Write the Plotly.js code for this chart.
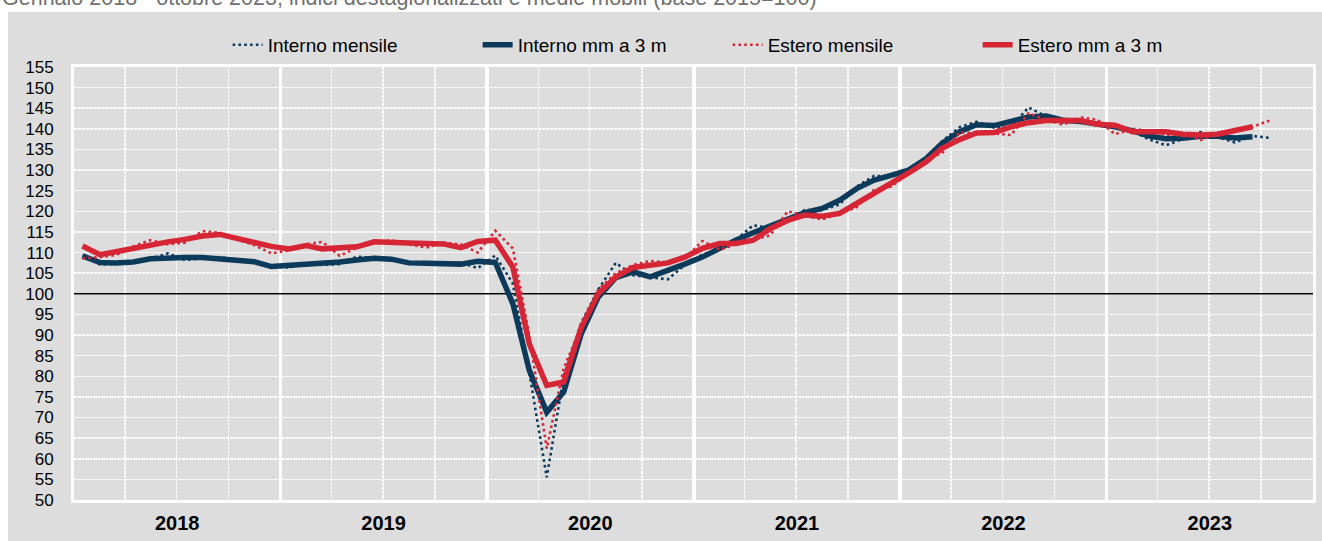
<!DOCTYPE html>
<html>
<head>
<meta charset="utf-8">
<script src="https://cdn.plot.ly/plotly-3.0.1.min.js"></script>
<style>
  html, body { margin: 0; padding: 0; background: #ffffff; }
  #chart { width: 1322px; height: 541px; }
</style>
</head>
<body>
<div id="chart"></div>
<script>
// Months: January 2018 - October 2023
var startYear = 2018;
var monthCount = 70;
var months = [];
for (var i = 0; i < monthCount; i++) {
  var y = startYear + Math.floor(i / 12);
  var m = (i % 12) + 1;
  months.push(y + '-' + (m < 10 ? '0' + m : m) + '-16');
}
var monthsMM = months.slice(0, 69); // centred moving average ends Sep 2023

var interno_mensile = [
  109.3, 107.1, 107.3, 107.6, 108.5, 109.8, 108.2, 108.6, 108.9, 108.3, 107.8, 106.6,
  106.4, 107.3, 107.0, 107.2, 109.0, 108.7, 108.6, 107.5, 107.7, 107.3, 107.6, 106.2,
  109.3, 102.5, 81.0, 55.5, 80.0, 93.0, 101.0, 107.5, 104.5, 104.0, 103.5, 107.0,
  109.5, 110.8, 113.0, 116.6, 116.0, 118.0, 120.3, 120.3, 121.7, 126.0, 128.6, 128.5,
  129.5, 133.0, 137.0, 140.4, 141.7, 140.3, 140.5, 145.2, 143.0, 141.5, 142.0, 141.0,
  140.5, 139.5, 137.5, 136.0, 137.5, 139.2, 138.0, 136.7, 138.3, 137.8
];
var interno_mm = [
  109.2, 107.6, 107.5, 107.7, 108.5, 108.8, 108.8, 108.8, 108.5, 108.2, 107.8, 106.6,
  106.8, 107.0, 107.3, 107.7, 108.2, 108.6, 108.4, 107.5, 107.4, 107.2, 107.2, 107.9,
  107.6, 97.6, 81.5, 71.3, 76.2, 90.3, 99.2, 103.9, 105.3, 104.1, 105.5, 107.2,
  108.9, 111.2, 113.0, 114.8, 116.5, 117.9, 119.7, 120.7, 122.7, 125.5, 127.6, 128.7,
  130.0, 132.8, 136.5, 139.3, 141.0, 140.8, 142.0, 142.9, 143.1, 142.1, 141.8, 141.2,
  140.5, 139.5, 138.3, 137.6, 137.7, 138.2, 138.2, 137.8, 138.1
];
var estero_mensile = [
  108.6, 108.9, 109.4, 111.5, 113.0, 112.0, 112.4, 115.2, 114.8, 113.2, 111.8, 109.8,
  110.5, 112.0, 112.6, 109.2, 111.2, 112.4, 113.0, 112.0, 111.2, 112.4, 112.0, 110.0,
  115.3, 111.0, 90.0, 62.5, 82.0, 92.0, 101.0, 105.0, 107.0, 108.0, 107.5, 108.5,
  112.8, 110.7, 112.0, 113.0, 114.2, 120.0, 119.0, 118.0, 119.5, 121.0, 125.2, 126.0,
  129.2, 132.7, 134.1, 139.1, 139.0, 138.9, 138.5, 143.8, 142.2, 141.0, 142.8, 142.2,
  138.7, 140.0, 139.5, 138.5, 139.0, 137.3, 139.0, 139.5, 140.5, 142.0
];
var estero_mm = [
  111.6, 109.5, 110.2, 111.0, 112.0, 112.6, 113.2, 114.0, 114.4, 113.4, 112.2, 111.5,
  110.9, 111.7, 110.9, 111.0, 111.4, 112.6, 112.6, 112.3, 112.2, 112.1, 111.2, 112.7,
  113.0, 106.5, 87.9, 77.8, 78.6, 91.9, 100.0, 104.1, 106.4, 106.9, 107.5, 108.9,
  111.0, 112.2, 112.2, 113.0, 115.8, 117.8, 119.1, 118.8, 119.5, 121.9, 124.3, 126.8,
  129.3, 132.0, 135.3, 137.4, 139.0, 139.1, 140.5, 141.5, 142.0, 142.0, 142.0, 141.1,
  140.9, 139.3, 139.3, 139.3, 138.7, 138.5, 138.7, 139.5, 140.5
];

var seriesNames = ['Interno mensile', 'Interno mm a 3 m', 'Estero mensile', 'Estero mm a 3 m'];
var titleText = 'Gennaio 2018 - ottobre 2023; indici destagionalizzati e medie mobili (base 2015=100)';
var baseValue = 100;
var xStart = '2018-01-01';
var xEnd = '2024-01-01';

var BLUE = '#0b3a5b';
var RED = '#d62636';
var BG = '#dddddd';
var FONT = 'Liberation Sans, Arial, sans-serif';

var traces = [
  { x: [xStart, xEnd], y: [baseValue, baseValue], type: 'scatter', mode: 'lines',
    line: { color: '#000000', width: 1.6 }, showlegend: false, hoverinfo: 'skip' },
  { x: months, y: interno_mensile, name: seriesNames[0], type: 'scatter', mode: 'lines',
    line: { color: BLUE, width: 2.6, dash: '2.6px,3.2px' } },
  { x: monthsMM, y: interno_mm, name: seriesNames[1], type: 'scatter', mode: 'lines',
    line: { color: BLUE, width: 5.5 } },
  { x: months, y: estero_mensile, name: seriesNames[2], type: 'scatter', mode: 'lines',
    line: { color: RED, width: 2.6, dash: '2.6px,3.2px' } },
  { x: monthsMM, y: estero_mm, name: seriesNames[3], type: 'scatter', mode: 'lines',
    line: { color: RED, width: 5.5 } }
];

var layout = {
  width: 1322, height: 541,
  margin: { l: 74, r: 9, t: 67, b: 41, pad: 0 },
  paper_bgcolor: '#ffffff',
  plot_bgcolor: BG,
  font: { family: FONT, size: 18, color: '#000000' },
  showlegend: true,
  legend: {
    orientation: 'h', x: 0.124, xanchor: 'left', y: 1.051, yanchor: 'middle',
    bgcolor: 'rgba(0,0,0,0)', font: { family: FONT, size: 19, color: '#000' },
    entrywidth: 205, entrywidthmode: 'pixels', traceorder: 'normal'
  },
  xaxis: {
    type: 'date',
    range: [xStart, xEnd],
    dtick: 'M12', tick0: xStart,
    ticklabelmode: 'period',
    tickformat: '%Y',
    ticks: '',
    tickfont: { family: FONT, size: 20, weight: 'bold', color: '#000' },
    ticklabelstandoff: 3,
    showgrid: true, gridcolor: '#ffffff', gridwidth: 3.5,
    minor: { dtick: 'M3', tick0: xStart, showgrid: true, gridcolor: '#ffffff',
             gridwidth: 1.5, griddash: '3px,1px' },
    showline: true, linecolor: '#ffffff', linewidth: 3, mirror: true,
    zeroline: false, fixedrange: true
  },
  yaxis: {
    range: [50, 155], dtick: 5, tick0: 50,
    ticks: '',
    tickfont: { family: FONT, size: 17, color: '#000' },
    ticklabelstandoff: 14,
    showgrid: true, gridcolor: '#ffffff', gridwidth: 1.5, griddash: '3px,1px',
    showline: true, linecolor: '#ffffff', linewidth: 3, mirror: true,
    zeroline: false, fixedrange: true
  },
  shapes: [
    { type: 'rect', xref: 'paper', yref: 'paper', x0: -0.0533, x1: 1.02, y0: -0.2, y1: 1.127,
      fillcolor: BG, line: { width: 0 }, layer: 'below' }
  ],
  annotations: [
    { text: titleText, xref: 'paper', yref: 'paper', x: -0.0597, xanchor: 'left',
      y: 1.16, yanchor: 'middle', showarrow: false,
      font: { family: FONT, size: 21.5, color: '#707070' } }
  ]
};

Plotly.newPlot('chart', traces, layout, { displayModeBar: false, staticPlot: true });
</script>
</body>
</html>
